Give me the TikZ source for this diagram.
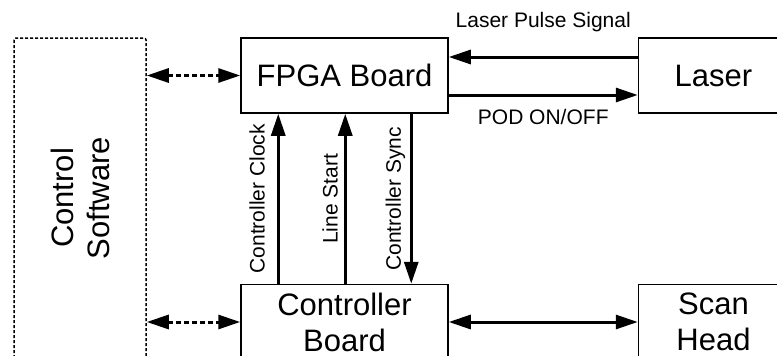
\documentclass[tikz,border=0pt]{standalone}
\usepackage{fontspec}
\setmainfont{Liberation Sans}
\usetikzlibrary{
  arrows.meta,
  positioning
}
\tikzset{
  blockbox/.style={
    draw=black,
    line width=1.5pt,
    fill=white,
    minimum width=207pt,
    minimum height=75pt,
    align=center,
    inner sep=0pt,
    font=\fontsize{31}{36}\selectfont
  },
  softbox/.style={blockbox,dash pattern=on 3pt off 2pt,rounded corners=2pt},
  sigarrow/.style={-{Triangle[length=22pt,width=14pt]},line width=3pt},
  backarrow/.style={{Triangle[length=22pt,width=14pt]}-,line width=3pt},
  linkarrow/.style={{Triangle[length=22pt,width=14pt]}-{Triangle[length=22pt,width=14pt]},line width=3pt},
  dotlink/.style={linkarrow,dash pattern=on 5pt off 3pt},
  siglabel/.style={font=\fontsize{21}{25}\selectfont,inner sep=0pt}
}

\begin{document}
\begin{tikzpicture}[x=1pt,y=-1pt]
  \useasboundingbox (0,0) rectangle (777,356);
  \clip (0,0) rectangle (777,356);

  \node[blockbox] (fpga) at (344.5,75.5) {FPGA Board};
  \node[blockbox, minimum width=150pt, right=189pt of fpga] (laser) {Laser};
  \node[blockbox, below=170pt of fpga] (ctrl) {Controller\\Board};
  \node[blockbox, minimum width=150pt, right=189pt of ctrl] (scan) {Scan\\Head};
  \node[softbox, rotate=90, minimum width=320pt, minimum height=132pt] (sw) at (80,198) {Control\\Software};

  % laser link
  \draw[sigarrow] ([yshift=18.5pt]laser.west) -- node[midway, above=24pt, siglabel] {Laser Pulse Signal} ([yshift=18.5pt]fpga.east);
  \draw[sigarrow] ([yshift=-19.5pt]fpga.east) -- node[midway, below=13pt, siglabel] {POD ON/OFF} ([yshift=-19.5pt]laser.west);

  % controller signals
  \draw[sigarrow] ([xshift=38pt]ctrl.north west) -- node[midway, sloped, above=12pt, siglabel] {Controller Clock} ([xshift=38pt]fpga.south west);
  \draw[sigarrow] ([xshift=105pt]ctrl.north west) -- node[midway, sloped, above=6pt, siglabel] {Line Start} ([xshift=105pt]fpga.south west);
  \draw[backarrow] ([xshift=171pt]ctrl.north west) -- node[midway, sloped, above=4.6pt, siglabel] {Controller Sync} ([xshift=171pt]fpga.south west);

  % software and scan head links
  \draw[dotlink] (fpga.west -| sw.south) -- (fpga.west);
  \draw[dotlink] (ctrl.west -| sw.south) -- (ctrl.west);
  \draw[linkarrow] (ctrl.east) -- (scan.west);
\end{tikzpicture}
\end{document}
